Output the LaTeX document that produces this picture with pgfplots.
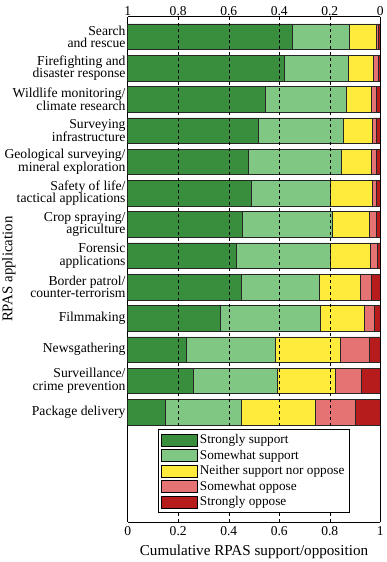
\documentclass[border=0pt]{standalone}
\usepackage{pgfplots}
\usepackage{pgfplotstable}
\pgfplotsset{compat=1.18}
\usetikzlibrary{calc}
\usepackage{fontspec}
\setmainfont{Liberation Serif}
\definecolor{c1}{HTML}{388E3C}
\definecolor{c2}{HTML}{81C784}
\definecolor{c3}{HTML}{FFEB3B}
\definecolor{c4}{HTML}{E57373}
\definecolor{c5}{HTML}{B71C1C}
\pgfplotstableread{
y ss ws n wo so
12 0.653 0.224 0.107 0.009 0.007
11 0.621 0.252 0.101 0.017 0.009
10 0.545 0.320 0.101 0.019 0.015
9 0.516 0.338 0.113 0.016 0.017
8 0.479 0.365 0.119 0.022 0.015
7 0.488 0.315 0.164 0.018 0.015
6 0.452 0.357 0.146 0.027 0.018
5 0.430 0.372 0.158 0.028 0.012
4 0.449 0.308 0.165 0.041 0.037
3 0.367 0.397 0.174 0.037 0.025
2 0.231 0.352 0.259 0.114 0.044
1 0.260 0.332 0.230 0.104 0.074
0 0.149 0.300 0.294 0.159 0.098
}\data
\begin{document}
\begin{tikzpicture}
\pgfplotsset{every axis/.append style={
  scale only axis, width=252.6bp, height=505bp,
  xmin=0, xmax=1, ymin=-3.5, ymax=12.64,
  font=\fontsize{13.6}{14.4}\selectfont,
  /pgf/number format/assume math mode=true,
  tick label style={font=\fontsize{13.6}{14.4}\selectfont},
  }}
\begin{axis}[
  xbar stacked, bar width=0.815,
  xtick={0,0.2,0.4,0.6,0.8,1},
  xticklabels={0,0.2,0.4,0.6,0.8,1},
  x tick style={draw=none},
  xticklabel style={yshift=-1.5bp},
  ytick={0,...,12},
  yticklabels={{Package delivery},{Surveillance/\\crime prevention},{Newsgathering},{Filmmaking},{Border patrol/\\counter-terrorism},{Forensic\\applications},{Crop spraying/\\agriculture},{Safety of life/\\tactical applications},{Geological surveying/\\mineral exploration},{Surveying\\infrastructure},{Wildlife monitoring/\\climate research},{Firefighting and\\disaster response},{Search\\and rescue}},
  yticklabel style={align=right, inner xsep=2bp, font=\fontsize{13.7}{12.5}\selectfont},
  ytick pos=both, tick align=inside, major tick length=4.5bp,
  y tick style={black},
  axis x line*=bottom,
  xlabel={Cumulative RPAS support/opposition},
  ylabel={RPAS application},
  xlabel style={font=\fontsize{15.2}{16}\selectfont, at={(rel axis cs:0.5,0)}, anchor=center, yshift=-30bp},
  ylabel style={font=\fontsize{14.9}{16}\selectfont, at={($(rel axis cs:0,0.5)+(-119bp,0)$)}, anchor=center},
  every axis plot/.append style={draw=black!85, line width=0.5pt},
]
\coordinate (SW) at (rel axis cs:0,0);
\coordinate (NE) at (rel axis cs:1,1);
\addplot[fill=c1] table[x=ss,y=y]{\data};
\addplot[fill=c2] table[x=ws,y=y]{\data};
\addplot[fill=c3] table[x=n,y=y]{\data};
\addplot[fill=c4] table[x=wo,y=y]{\data};
\addplot[fill=c5] table[x=so,y=y]{\data};
\end{axis}
\begin{axis}[
  x dir=reverse,
  axis x line*=top,
  axis y line*=right, ytick=\empty,
  xtick={0,0.2,0.4,0.6,0.8,1},
  xticklabels={0,0.2,0.4,0.6,0.8,1},
  x tick style={draw=none},
  xticklabel style={yshift=-2.5bp},
  legend style={at={(0.5,0.0186)}, anchor=south, draw=black, fill=white,
    font=\fontsize{13.3}{14}\selectfont, row sep=0.8bp, inner sep=3bp},
  legend cell align=left,
  legend image code/.code={\draw[#1] (0bp,-6bp) rectangle (36bp,6bp);},
]
\addlegendimage{fill=c1,draw=black}
\addlegendentry{Strongly support}
\addlegendimage{fill=c2,draw=black}
\addlegendentry{Somewhat support}
\addlegendimage{fill=c3,draw=black}
\addlegendentry{Neither support nor oppose}
\addlegendimage{fill=c4,draw=black}
\addlegendentry{Somewhat oppose}
\addlegendimage{fill=c5,draw=black}
\addlegendentry{Strongly oppose}
\addplot[black, dashed, forget plot] coordinates {(0.2,-3.5) (0.2,12.64)};
\addplot[black, dashed, forget plot] coordinates {(0.4,-3.5) (0.4,12.64)};
\addplot[black, dashed, forget plot] coordinates {(0.6,-3.5) (0.6,12.64)};
\addplot[black, dashed, forget plot] coordinates {(0.8,-3.5) (0.8,12.64)};
\end{axis}
\pgfresetboundingbox
\path ([xshift=-127.7bp,yshift=-40.3bp]SW) rectangle ([xshift=6.7bp,yshift=16.7bp]NE);
\end{tikzpicture}
\end{document}
